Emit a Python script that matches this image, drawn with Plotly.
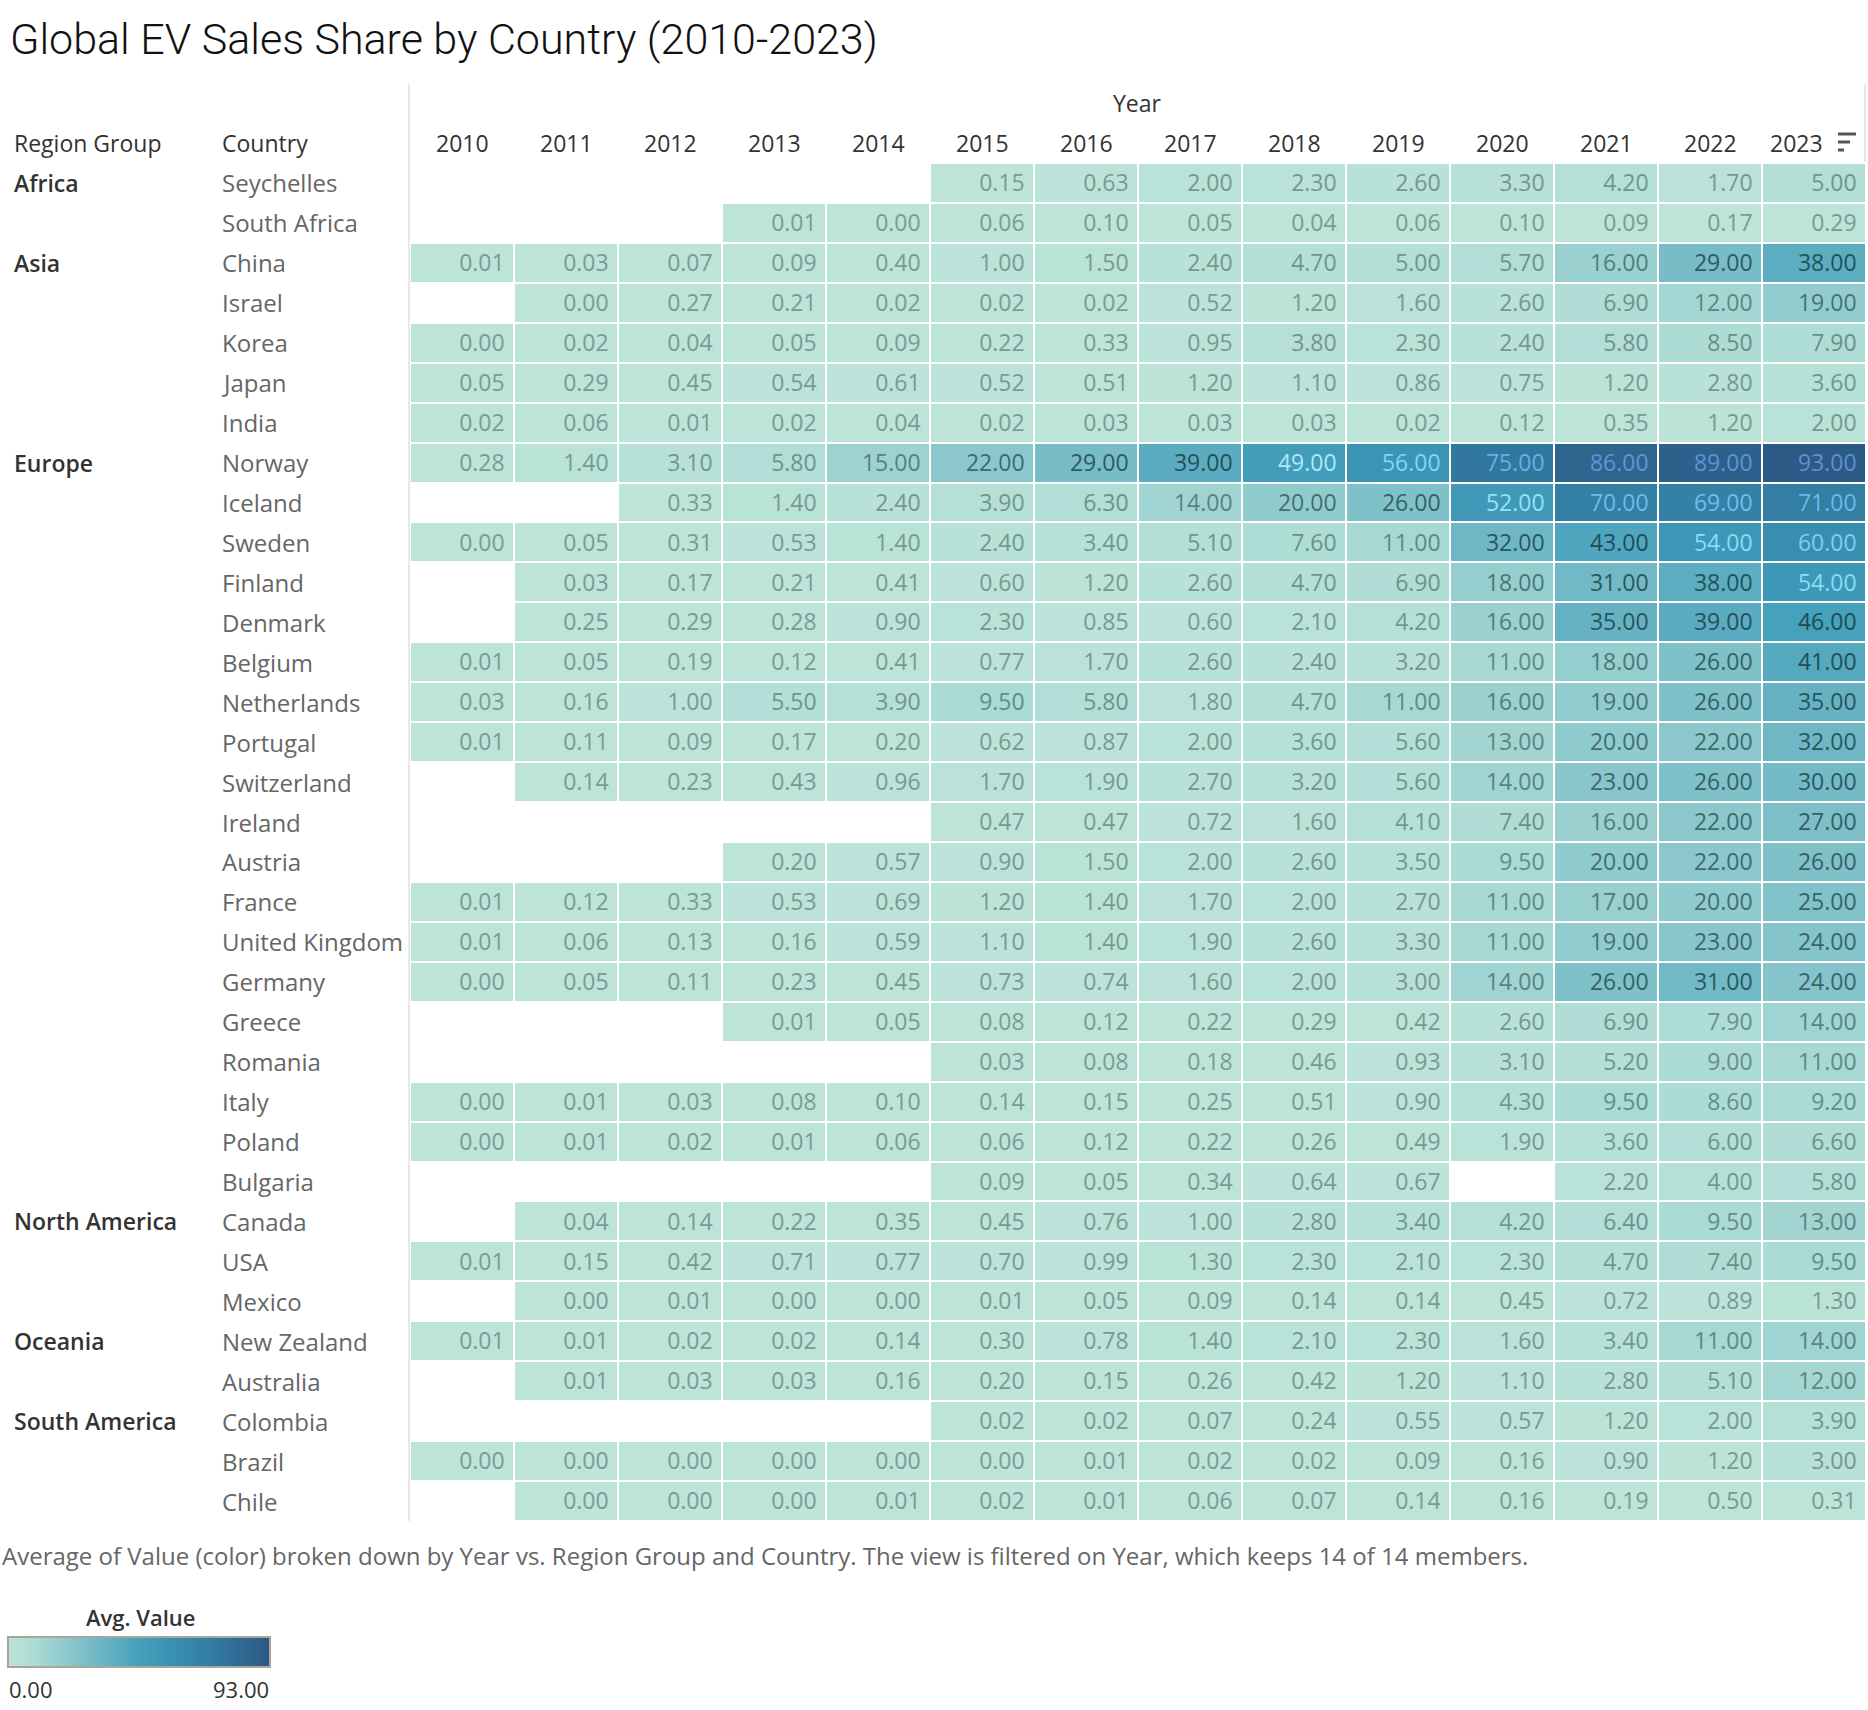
import numpy as np
import plotly.graph_objects as go

years = [str(y) for y in range(2010, 2024)]

regions = ["Africa", "Asia", "Europe", "North America", "Oceania", "South America"]
region_countries = {
    "Africa": ["Seychelles", "South Africa"],
    "Asia": ["China", "Israel", "Korea", "Japan", "India"],
    "Europe": ["Norway", "Iceland", "Sweden", "Finland", "Denmark", "Belgium", "Netherlands",
               "Portugal", "Switzerland", "Ireland", "Austria", "France", "United Kingdom",
               "Germany", "Greece", "Romania", "Italy", "Poland", "Bulgaria"],
    "North America": ["Canada", "USA", "Mexico"],
    "Oceania": ["New Zealand", "Australia"],
    "South America": ["Colombia", "Brazil", "Chile"],
}

N = None
values = {
    "Seychelles":     [N, N, N, N, N, 0.15, 0.63, 2.00, 2.30, 2.60, 3.30, 4.20, 1.70, 5.00],
    "South Africa":   [N, N, N, 0.01, 0.00, 0.06, 0.10, 0.05, 0.04, 0.06, 0.10, 0.09, 0.17, 0.29],
    "China":          [0.01, 0.03, 0.07, 0.09, 0.40, 1.00, 1.50, 2.40, 4.70, 5.00, 5.70, 16.00, 29.00, 38.00],
    "Israel":         [N, 0.00, 0.27, 0.21, 0.02, 0.02, 0.02, 0.52, 1.20, 1.60, 2.60, 6.90, 12.00, 19.00],
    "Korea":          [0.00, 0.02, 0.04, 0.05, 0.09, 0.22, 0.33, 0.95, 3.80, 2.30, 2.40, 5.80, 8.50, 7.90],
    "Japan":          [0.05, 0.29, 0.45, 0.54, 0.61, 0.52, 0.51, 1.20, 1.10, 0.86, 0.75, 1.20, 2.80, 3.60],
    "India":          [0.02, 0.06, 0.01, 0.02, 0.04, 0.02, 0.03, 0.03, 0.03, 0.02, 0.12, 0.35, 1.20, 2.00],
    "Norway":         [0.28, 1.40, 3.10, 5.80, 15.00, 22.00, 29.00, 39.00, 49.00, 56.00, 75.00, 86.00, 89.00, 93.00],
    "Iceland":        [N, N, 0.33, 1.40, 2.40, 3.90, 6.30, 14.00, 20.00, 26.00, 52.00, 70.00, 69.00, 71.00],
    "Sweden":         [0.00, 0.05, 0.31, 0.53, 1.40, 2.40, 3.40, 5.10, 7.60, 11.00, 32.00, 43.00, 54.00, 60.00],
    "Finland":        [N, 0.03, 0.17, 0.21, 0.41, 0.60, 1.20, 2.60, 4.70, 6.90, 18.00, 31.00, 38.00, 54.00],
    "Denmark":        [N, 0.25, 0.29, 0.28, 0.90, 2.30, 0.85, 0.60, 2.10, 4.20, 16.00, 35.00, 39.00, 46.00],
    "Belgium":        [0.01, 0.05, 0.19, 0.12, 0.41, 0.77, 1.70, 2.60, 2.40, 3.20, 11.00, 18.00, 26.00, 41.00],
    "Netherlands":    [0.03, 0.16, 1.00, 5.50, 3.90, 9.50, 5.80, 1.80, 4.70, 11.00, 16.00, 19.00, 26.00, 35.00],
    "Portugal":       [0.01, 0.11, 0.09, 0.17, 0.20, 0.62, 0.87, 2.00, 3.60, 5.60, 13.00, 20.00, 22.00, 32.00],
    "Switzerland":    [N, 0.14, 0.23, 0.43, 0.96, 1.70, 1.90, 2.70, 3.20, 5.60, 14.00, 23.00, 26.00, 30.00],
    "Ireland":        [N, N, N, N, N, 0.47, 0.47, 0.72, 1.60, 4.10, 7.40, 16.00, 22.00, 27.00],
    "Austria":        [N, N, N, 0.20, 0.57, 0.90, 1.50, 2.00, 2.60, 3.50, 9.50, 20.00, 22.00, 26.00],
    "France":         [0.01, 0.12, 0.33, 0.53, 0.69, 1.20, 1.40, 1.70, 2.00, 2.70, 11.00, 17.00, 20.00, 25.00],
    "United Kingdom": [0.01, 0.06, 0.13, 0.16, 0.59, 1.10, 1.40, 1.90, 2.60, 3.30, 11.00, 19.00, 23.00, 24.00],
    "Germany":        [0.00, 0.05, 0.11, 0.23, 0.45, 0.73, 0.74, 1.60, 2.00, 3.00, 14.00, 26.00, 31.00, 24.00],
    "Greece":         [N, N, N, 0.01, 0.05, 0.08, 0.12, 0.22, 0.29, 0.42, 2.60, 6.90, 7.90, 14.00],
    "Romania":        [N, N, N, N, N, 0.03, 0.08, 0.18, 0.46, 0.93, 3.10, 5.20, 9.00, 11.00],
    "Italy":          [0.00, 0.01, 0.03, 0.08, 0.10, 0.14, 0.15, 0.25, 0.51, 0.90, 4.30, 9.50, 8.60, 9.20],
    "Poland":         [0.00, 0.01, 0.02, 0.01, 0.06, 0.06, 0.12, 0.22, 0.26, 0.49, 1.90, 3.60, 6.00, 6.60],
    "Bulgaria":       [N, N, N, N, N, 0.09, 0.05, 0.34, 0.64, 0.67, N, 2.20, 4.00, 5.80],
    "Canada":         [N, 0.04, 0.14, 0.22, 0.35, 0.45, 0.76, 1.00, 2.80, 3.40, 4.20, 6.40, 9.50, 13.00],
    "USA":            [0.01, 0.15, 0.42, 0.71, 0.77, 0.70, 0.99, 1.30, 2.30, 2.10, 2.30, 4.70, 7.40, 9.50],
    "Mexico":         [N, 0.00, 0.01, 0.00, 0.00, 0.01, 0.05, 0.09, 0.14, 0.14, 0.45, 0.72, 0.89, 1.30],
    "New Zealand":    [0.01, 0.01, 0.02, 0.02, 0.14, 0.30, 0.78, 1.40, 2.10, 2.30, 1.60, 3.40, 11.00, 14.00],
    "Australia":      [N, 0.01, 0.03, 0.03, 0.16, 0.20, 0.15, 0.26, 0.42, 1.20, 1.10, 2.80, 5.10, 12.00],
    "Colombia":       [N, N, N, N, N, 0.02, 0.02, 0.07, 0.24, 0.55, 0.57, 1.20, 2.00, 3.90],
    "Brazil":         [0.00, 0.00, 0.00, 0.00, 0.00, 0.00, 0.01, 0.02, 0.02, 0.09, 0.16, 0.90, 1.20, 3.00],
    "Chile":          [N, 0.00, 0.00, 0.00, 0.01, 0.02, 0.01, 0.06, 0.07, 0.14, 0.16, 0.19, 0.50, 0.31],
}

# ---------------------------------------------------------------- layout helpers
W, H = 1868, 1710
FONT = "Open Sans"
TITLE_FONT = "Roboto"


def px(x):
    return x / W


def py(y):
    return 1 - y / H


countries = [c for r in regions for c in region_countries[r]]
z = np.array([[np.nan if v is None else v for v in values[c]] for c in countries], dtype=float)
zmax = float(np.nanmax(z))

colorscale = [
    [0.00, "#bde4d9"],
    [0.10, "#abdbd5"],
    [0.22, "#8fcacd"],
    [0.35, "#6db6c5"],
    [0.50, "#45a0bb"],
    [0.62, "#3a92b3"],
    [0.80, "#32789f"],
    [1.00, "#2c5985"],
]

# label colour ramp (style)
lab_v = [0, 8, 15, 20, 30, 46.9, 47.1, 55, 65, 75, 86, 93]
lab_c = ["#7a9b91", "#6b8f87", "#57817d", "#446f70", "#2c5960", "#1d4a56",
         "#b2f0ff", "#80daf5", "#6fc8f0", "#62b2e6", "#5a98d6", "#5a92d0"]


def hex2rgb(h):
    h = h.lstrip("#")
    return [int(h[i:i + 2], 16) for i in (0, 2, 4)]


lab_rgb = np.array([hex2rgb(c) for c in lab_c], dtype=float)


def label_color(v):
    rgb = [np.interp(v, lab_v, lab_rgb[:, k]) for k in range(3)]
    return "rgb(%d,%d,%d)" % tuple(int(round(c)) for c in rgb)


fig = go.Figure()

fig.add_trace(go.Heatmap(
    z=z,
    x=list(range(len(years))),
    y=list(range(len(countries))),
    colorscale=colorscale,
    zmin=0, zmax=zmax,
    xgap=2, ygap=2,
    hoverongaps=False,
    colorbar=dict(
        orientation="h",
        x=px(8), xanchor="left",
        y=py(1669), yanchor="bottom",
        len=262, lenmode="pixels",
        thickness=30,
        outlinecolor="#a9a597", outlinewidth=2,
        showticklabels=False, ticks="",
        xpad=0, ypad=0,
    ),
))

# cell labels
tx, ty, tt, tc = [], [], [], []
for i, c in enumerate(countries):
    for j in range(len(years)):
        v = z[i, j]
        if np.isnan(v):
            continue
        tx.append(j + 0.41)
        ty.append(i + 0.06)
        tt.append("%.2f" % v)
        tc.append(label_color(v))

fig.add_trace(go.Scatter(
    x=tx, y=ty, text=tt, mode="text",
    textposition="middle left",
    textfont=dict(family=FONT, size=23, color=tc),
    hoverinfo="skip", showlegend=False,
))

fig.update_layout(
    width=W, height=H,
    margin=dict(l=0, r=0, t=0, b=0),
    paper_bgcolor="white", plot_bgcolor="white",
    showlegend=False,
    xaxis=dict(domain=[px(410), px(1866)], range=[-0.5, len(years) - 0.5],
               showgrid=False, zeroline=False, showticklabels=False, fixedrange=True),
    yaxis=dict(domain=[py(1521), py(163)], range=[len(countries) - 0.5, -0.5],
               showgrid=False, zeroline=False, showticklabels=False, fixedrange=True),
    font=dict(family=FONT),
)

ann = []
# title
ann.append(dict(text="Global EV Sales Share by Country (2010-2023)", xref="paper", yref="paper",
                x=px(8), y=py(39), xanchor="left", yanchor="middle", showarrow=False,
                font=dict(family=TITLE_FONT, size=43, color="#111111", weight=300)))
# Year header
ann.append(dict(text="Year", xref="paper", yref="paper", x=px(1137), y=py(103),
                xanchor="center", yanchor="middle", showarrow=False,
                font=dict(family=FONT, size=23, color="#333333", weight=500)))
# column headers
for j, yr in enumerate(years):
    ann.append(dict(text=yr, xref="x", yref="paper", x=j, y=py(143),
                    xanchor="center", yanchor="middle", showarrow=False,
                    xshift=-18 if j == len(years) - 1 else 0,
                    font=dict(family=FONT, size=23, color="#333333", weight=500)))
# row headers
ann.append(dict(text="Region Group", xref="paper", yref="paper", x=px(12), y=py(143),
                xanchor="left", yanchor="middle", showarrow=False,
                font=dict(family=FONT, size=23, color="#333333", weight=500)))
ann.append(dict(text="Country", xref="paper", yref="paper", x=px(220), y=py(143),
                xanchor="left", yanchor="middle", showarrow=False,
                font=dict(family=FONT, size=23, color="#333333", weight=500)))
for r in regions:
    first = countries.index(region_countries[r][0])
    ann.append(dict(text=r, xref="paper", yref="y", x=px(12), y=first,
                    xanchor="left", yanchor="middle", showarrow=False,
                    font=dict(family=FONT, size=23, color="#333333", weight=600)))
for i, c in enumerate(countries):
    ann.append(dict(text=c, xref="paper", yref="y", x=px(220), y=i,
                    xanchor="left", yanchor="middle", showarrow=False,
                    font=dict(family=FONT, size=24, color="#666666")))
# footnote
ann.append(dict(text="Average of Value (color) broken down by Year vs. Region Group and Country. "
                     "The view is filtered on Year, which keeps 14 of 14 members.",
                xref="paper", yref="paper", x=0, y=py(1555), xanchor="left", yanchor="middle",
                showarrow=False, font=dict(family=FONT, size=24, color="#666666")))
# legend texts
ann.append(dict(text="Avg. Value", xref="paper", yref="paper", x=px(140), y=py(1617),
                xanchor="center", yanchor="middle", showarrow=False,
                font=dict(family=FONT, size=22, color="#333333", weight=600)))
ann.append(dict(text="0.00", xref="paper", yref="paper", x=px(7), y=py(1689),
                xanchor="left", yanchor="middle", showarrow=False,
                font=dict(family=FONT, size=22, color="#333333")))
ann.append(dict(text="%.2f" % zmax, xref="paper", yref="paper", x=px(271), y=py(1689),
                xanchor="right", yanchor="middle", showarrow=False,
                font=dict(family=FONT, size=22, color="#333333")))
fig.update_layout(annotations=ann)

# divider lines and sort icon
shapes = [
    dict(type="line", xref="paper", yref="paper", x0=px(409), x1=px(409), y0=py(84), y1=py(1521),
         line=dict(color="#d0d0d0", width=1)),
    dict(type="line", xref="paper", yref="paper", x0=px(1865), x1=px(1865), y0=py(84), y1=py(162),
         line=dict(color="#d0d0d0", width=1)),
]
for k, (yy, ln) in enumerate([(134, 18), (142, 12), (150, 6)]):
    shapes.append(dict(type="line", xref="paper", yref="paper", x0=px(1838), x1=px(1838 + ln),
                       y0=py(yy), y1=py(yy), line=dict(color="#555555", width=3)))
fig.update_layout(shapes=shapes)

fig.write_html("out.html", config={"displayModeBar": False},
               post_script="document.body.style.margin='0px';document.body.style.overflow='hidden';")
